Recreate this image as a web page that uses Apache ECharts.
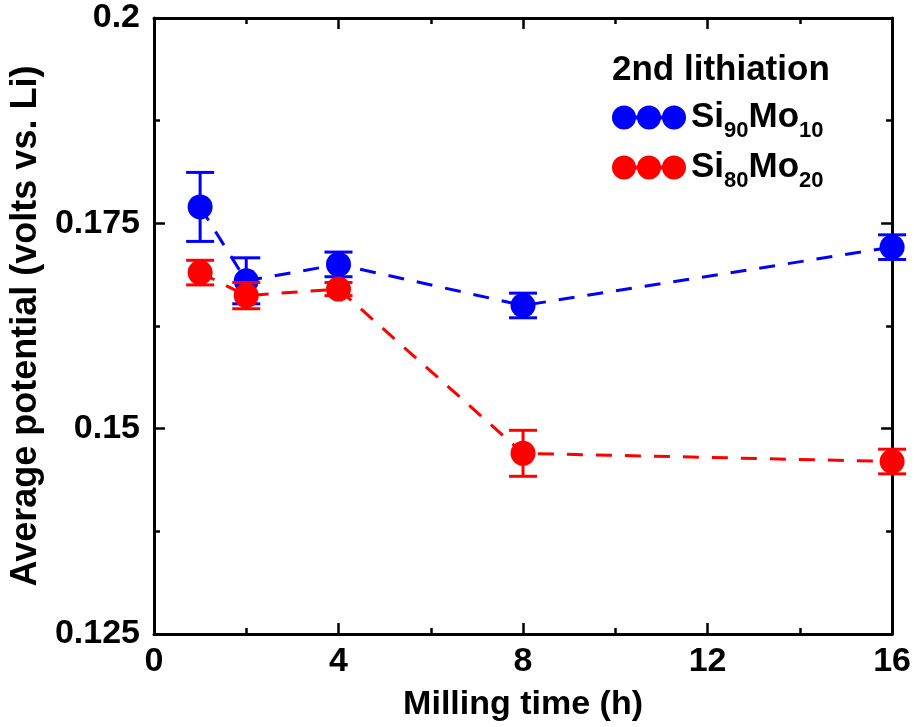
<!DOCTYPE html>
<html>
<head>
<meta charset="utf-8">
<script src="https://cdn.jsdelivr.net/npm/echarts@6/dist/echarts.min.js"></script>
<style>
  html, body { margin: 0; padding: 0; background: #fff; }
  #chart { width: 914px; height: 727px; }
</style>
</head>
<body>
<div id="chart"></div>
<script>
// Milling time (h) for each sample
const millingTime = [1, 2, 4, 8, 16];

// Average potential of the 2nd lithiation (V vs. Li) and its error
const si90Mo10 = [0.1770, 0.1680, 0.1700, 0.1650, 0.1721];
const si90Mo10Err = [0.0042, 0.0028, 0.0015, 0.0015, 0.0015];
const si80Mo20 = [0.1690, 0.1662, 0.1670, 0.1470, 0.1460];
const si80Mo20Err = [0.0015, 0.0016, 0.0008, 0.0028, 0.0015];

// Legend names and their rich-text pieces (subscripted atomic ratios)
const seriesNames = ['Si90Mo10', 'Si80Mo20'];
const seriesLabels = {
  Si90Mo10: ['Si', '90', 'Mo', '10'],
  Si80Mo20: ['Si', '80', 'Mo', '20']
};
const legendTitle = '2nd lithiation';
const xAxisTitle = 'Milling time (h)';
const yAxisTitle = 'Average potential (volts vs. Li)';

const FONT = '"Liberation Sans", Arial, Helvetica, sans-serif';
const BLUE = '#0000ff';
const RED = '#ff0000';

function pairs(xs, ys) {
  return xs.map((x, i) => [x, ys[i]]);
}
function errData(xs, ys, es) {
  return xs.map((x, i) => [x, ys[i] - es[i], ys[i] + es[i]]);
}

// Vertical error bar with caps, drawn in data coordinates
function errorBarRender(params, api) {
  const x = api.value(0);
  const lo = api.coord([x, api.value(1)]);
  const hi = api.coord([x, api.value(2)]);
  const half = 14;
  const style = { stroke: api.visual('color'), lineWidth: 3, fill: null };
  return {
    type: 'group',
    children: [
      { type: 'line', shape: { x1: lo[0], y1: lo[1], x2: hi[0], y2: hi[1] }, style },
      { type: 'line', shape: { x1: lo[0] - half, y1: lo[1], x2: lo[0] + half, y2: lo[1] }, style },
      { type: 'line', shape: { x1: hi[0] - half, y1: hi[1], x2: hi[0] + half, y2: hi[1] }, style }
    ]
  };
}

function makeSeries(name, color, ys, es, zBase) {
  return [
    {
      name: name + ' line',
      type: 'line',
      data: pairs(millingTime, ys),
      showSymbol: false,
      silent: true,
      lineStyle: { color: color, width: 3, type: [16, 13] },
      z: 1
    },
    {
      name: name,
      type: 'scatter',
      data: pairs(millingTime, ys),
      symbol: 'circle',
      symbolSize: 25,
      itemStyle: { color: color, opacity: 1 },
      z: zBase
    },
    {
      name: name + ' error',
      type: 'custom',
      data: errData(millingTime, ys, es),
      renderItem: errorBarRender,
      itemStyle: { color: color },
      encode: { x: 0, y: [1, 2] },
      silent: true,
      z: zBase + 1
    }
  ];
}

// Three joined dots used as the legend key
const legendIcon = 'path://M0,12A12,12,0,1,1,24,12A12,12,0,1,1,0,12Z' +
  'M25,12A12,12,0,1,1,49,12A12,12,0,1,1,25,12Z' +
  'M50,12A12,12,0,1,1,74,12A12,12,0,1,1,50,12Z' +
  'M12,10L62,10L62,14L12,14Z';

const axisLineStyle = { color: '#000', width: 3 };

function xAxisBase(position, withLabels) {
  return {
    type: 'value',
    position: position,
    min: 0,
    max: 16,
    interval: 4,
    axisLine: { show: true, onZero: false, lineStyle: axisLineStyle },
    axisTick: { show: true, inside: true, length: 11, lineStyle: { color: '#000', width: 2.5 } },
    minorTick: { show: true, splitNumber: 2, length: 6, lineStyle: { color: '#000', width: 2.5 } },
    splitLine: { show: false },
    axisLabel: {
      show: withLabels,
      color: '#000',
      fontFamily: FONT,
      fontWeight: 'bold',
      fontSize: 34,
      margin: 11
    }
  };
}

function yAxisBase(position, withLabels) {
  return {
    type: 'value',
    position: position,
    min: 0.125,
    max: 0.2,
    interval: 0.025,
    axisLine: { show: true, onZero: false, lineStyle: axisLineStyle },
    axisTick: { show: true, inside: true, length: 11, lineStyle: { color: '#000', width: 2.5 } },
    minorTick: { show: true, splitNumber: 2, length: 6, lineStyle: { color: '#000', width: 2.5 } },
    splitLine: { show: false },
    axisLabel: {
      show: withLabels,
      color: '#000',
      fontFamily: FONT,
      fontWeight: 'bold',
      fontSize: 34,
      margin: 14,
      formatter: v => String(+v.toFixed(3))
    }
  };
}

const chart = echarts.init(document.getElementById('chart'), null, { renderer: 'canvas' });

const xBottom = Object.assign(xAxisBase('bottom', true), {
  name: xAxisTitle,
  nameLocation: 'middle',
  nameGap: 54,
  nameTextStyle: { color: '#000', fontFamily: FONT, fontWeight: 'bold', fontSize: 34 }
});
const xTop = xAxisBase('top', false);
const yLeft = Object.assign(yAxisBase('left', true), {
  name: yAxisTitle,
  nameLocation: 'middle',
  nameGap: 104,
  nameTextStyle: { color: '#000', fontFamily: FONT, fontWeight: 'bold', fontSize: 36 }
});
const yRight = yAxisBase('right', false);

chart.setOption({
  animation: false,
  backgroundColor: '#fff',
  grid: { left: 152, right: 21, top: 18, bottom: 91, containLabel: false },
  title: {
    text: legendTitle,
    left: 612,
    top: 53,
    padding: 0,
    textStyle: { color: '#000', fontFamily: FONT, fontWeight: 'bold', fontSize: 35, lineHeight: 35 }
  },
  legend: {
    orient: 'vertical',
    left: 612,
    top: 100,
    padding: 0,
    itemGap: 8,
    itemWidth: 74,
    itemHeight: 24,
    selectedMode: false,
    data: seriesNames.map(n => ({ name: n, icon: legendIcon })),
    formatter: name => {
      const p = seriesLabels[name];
      return '{m|' + p[0] + '}{s|' + p[1] + '}{m|' + p[2] + '}{s|' + p[3] + '}';
    },
    textStyle: {
      color: '#000',
      rich: {
        m: { fontFamily: FONT, fontWeight: 'bold', fontSize: 35, lineHeight: 35, verticalAlign: 'top', color: '#000' },
        s: { fontFamily: FONT, fontWeight: 'bold', fontSize: 22, lineHeight: 22, padding: [20, 0, 0, 0], verticalAlign: 'top', color: '#000' }
      }
    }
  },
  xAxis: [xBottom, xTop],
  yAxis: [yLeft, yRight],
  series: [].concat(
    makeSeries(seriesNames[0], BLUE, si90Mo10, si90Mo10Err, 3),
    makeSeries(seriesNames[1], RED, si80Mo20, si80Mo20Err, 5)
  )
});
</script>
</body>
</html>
